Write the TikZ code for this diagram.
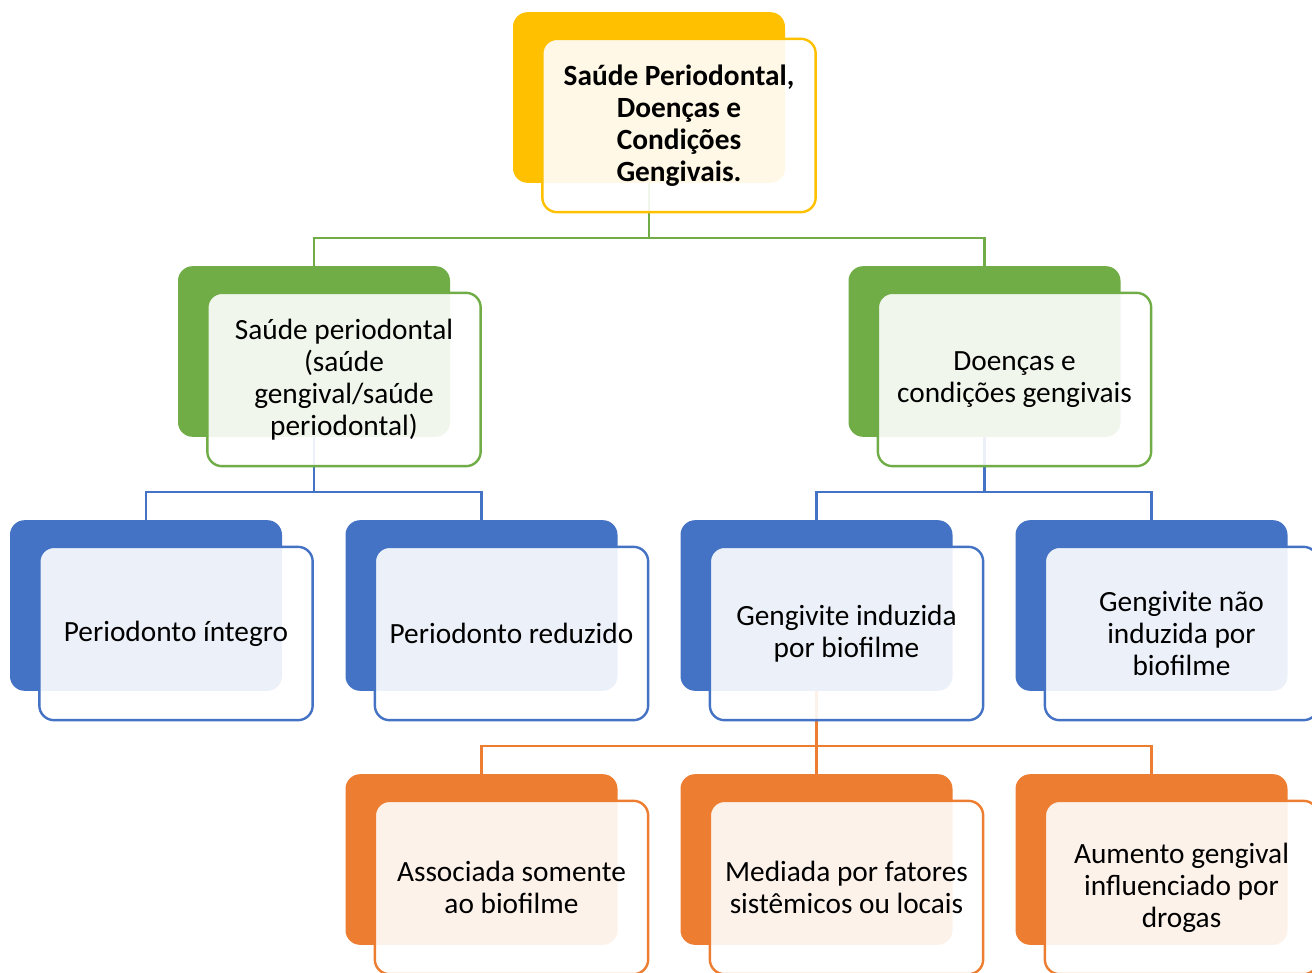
\documentclass[tikz,border=0pt]{standalone}
\usepackage{fontspec}
\setmainfont{Carlito}
\usepackage{tikz}
\usetikzlibrary{calc}
\definecolor{gold}{HTML}{FFC000}
\definecolor{leaf}{HTML}{70AD47}
\definecolor{sky}{HTML}{4472C4}
\definecolor{rust}{HTML}{ED7D31}
\tikzset{
  back/.style={fill=#1, rounded corners=11pt, minimum width=204pt, minimum height=128pt, inner sep=0pt},
  front/.style={draw=#1, line width=1.8pt, fill=white, fill opacity=0.9, text opacity=1,
    rounded corners=11pt, minimum width=205pt, minimum height=130pt, inner sep=2pt,
    align=center, text=black, font=\fontsize{22}{24}\selectfont},
  link/.style={draw=#1, line width=1.6pt},
}
\begin{document}
\begin{tikzpicture}[x=0.75pt,y=-0.75pt]
  \useasboundingbox (0,0) rectangle (1312,973);
  \clip (0,0) rectangle (1312,973);
  % back panels
  \foreach \n/\x/\y/\c in {top/649/97.5/gold, sp/314/351.5/leaf, dc/984.5/351.5/leaf,
      pi/146/605.5/sky, pr/481.5/605.5/sky, gb/816.5/605.5/sky, gn/1151.5/605.5/sky,
      ab/481.5/859.5/rust, mf/816.5/859.5/rust, ag/1151.5/859.5/rust}
    \node[back=\c] (b\n) at (\x,\y) {};
  % connectors
  \draw[link=leaf] (btop.south) -- ++(0,55) -| (bsp.north);
  \draw[link=leaf] (btop.south) -- ++(0,55) -| (bdc.north);
  \foreach \k in {pi,pr} \draw[link=sky] (bsp.south) -- ++(0,55) -| (b\k.north);
  \foreach \k in {gb,gn} \draw[link=sky] (bdc.south) -- ++(0,55) -| (b\k.north);
  \foreach \k in {ab,mf,ag} \draw[link=rust] (bgb.south) -- ++(0,55) -| (b\k.north);
  % front panels with text
  \foreach \n/\c/\t in {top/gold/{\textbf{Saúde Periodontal,}\\\textbf{Doenças e}\\\textbf{Condições}\\\textbf{Gengivais.}},
      sp/leaf/{Saúde periodontal\\(saúde\\gengival/saúde\\periodontal)},
      dc/leaf/{Doenças e\\condições gengivais},
      pi/sky/{Periodonto íntegro},
      pr/sky/{Periodonto reduzido},
      gb/sky/{Gengivite induzida\\por biofilme},
      gn/sky/{Gengivite não\\induzida por\\biofilme},
      ab/rust/{Associada somente\\ao biofilme},
      mf/rust/{Mediada por fatores\\sistêmicos ou locais},
      ag/rust/{Aumento gengival\\influenciado por\\drogas}}
    \node[front=\c] (\n) at ($(b\n)+(30,28)$) {\t};
\end{tikzpicture}
\end{document}
